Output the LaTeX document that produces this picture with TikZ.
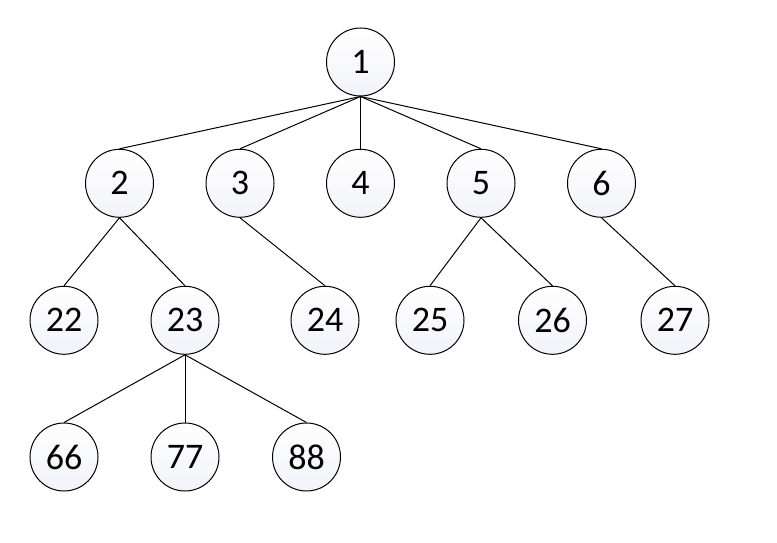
\documentclass[tikz,border=0pt]{standalone}
\usepackage{fontspec}
\setmainfont{Carlito}
\begin{document}
\begin{tikzpicture}[x=1pt,y=-1pt,
  tn/.style={circle,draw=black,line width=1pt,minimum size=68pt,inner sep=0pt,
    top color=white,bottom color={rgb,255:red,242;green,243;blue,250},
    font=\fontsize{36}{42}\selectfont},
  ed/.style={draw=black,line width=1pt}]
\useasboundingbox (0,0) rectangle (777,543);
\node[tn] (n1) at (360.5,62) {1};
\node[tn] (n2) at (119.5,183.3) {2};
\node[tn] (n3) at (240,183.3) {3};
\node[tn] (n4) at (360.5,183.3) {4};
\node[tn] (n5) at (481,183.3) {5};
\node[tn] (n6) at (601.5,183.3) {6};
\node[tn] (n22) at (64,320.3) {22};
\node[tn] (n23) at (185,320.3) {23};
\node[tn] (n24) at (325,320.3) {24};
\node[tn] (n25) at (430,320.3) {25};
\node[tn] (n26) at (552.5,320.3) {26};
\node[tn] (n27) at (675,320.3) {27};
\node[tn] (n66) at (64,457) {66};
\node[tn] (n77) at (185,457) {77};
\node[tn] (n88) at (306.5,457) {88};
\foreach \p/\c in {n1/n2,n1/n3,n1/n4,n1/n5,n1/n6,n2/n22,n2/n23,n3/n24,n5/n25,n5/n26,n6/n27,n23/n66,n23/n77,n23/n88}
  \draw[ed] (\p.south) -- (\c.north);
\end{tikzpicture}
\end{document}
